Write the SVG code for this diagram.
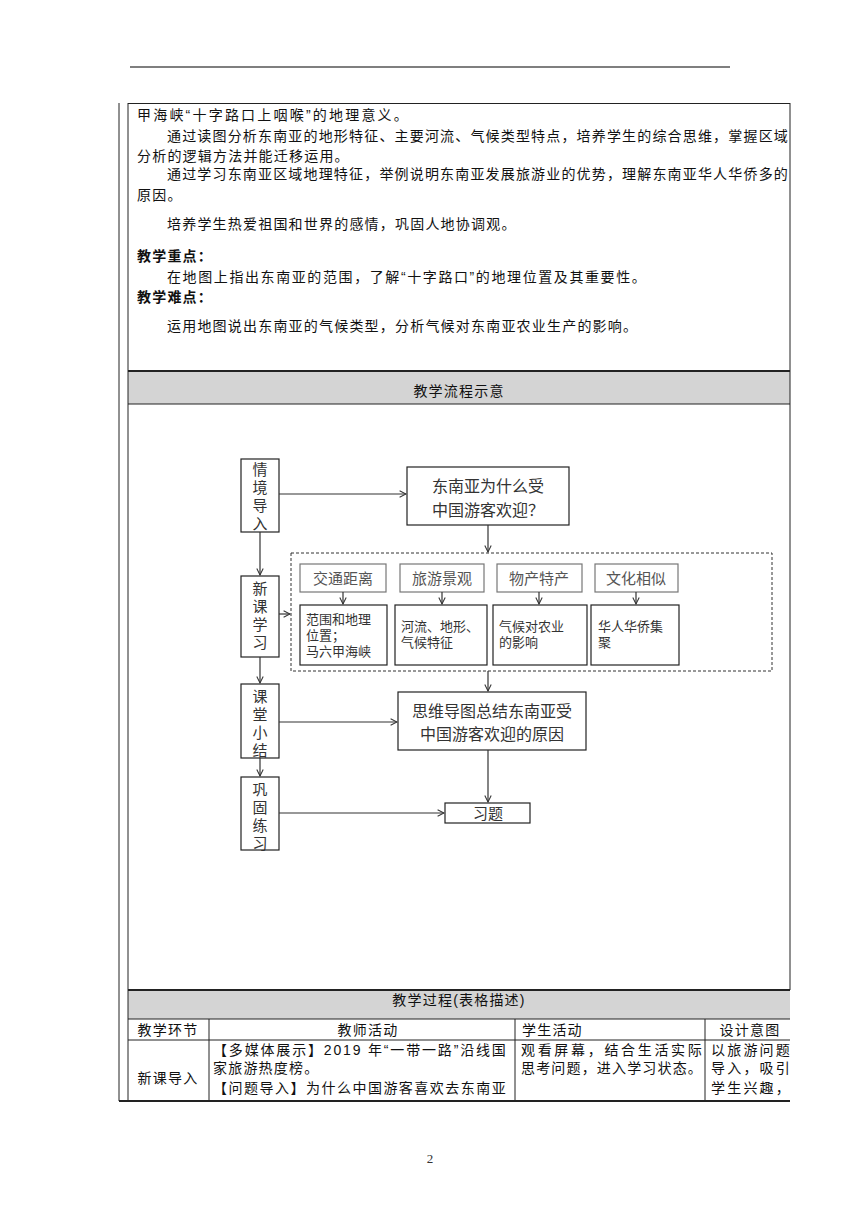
<svg xmlns="http://www.w3.org/2000/svg" width="860" height="1216" viewBox="0 0 860 1216">
<defs>
<style>
.t{font-family:"Liberation Sans","Noto Sans CJK SC","Noto Sans CJK JP",sans-serif;font-size:14px;fill:#111;letter-spacing:1.2px}
.b{font-weight:bold}
.fc{font-family:"Liberation Sans","Noto Sans CJK SC","Noto Sans CJK JP",sans-serif;fill:#333}
.v{font-size:15px;text-anchor:middle}
.q{font-size:16px}
.h{font-size:15px;text-anchor:middle;fill:#555}
.s{font-size:13px}
.box{fill:#fff;stroke:#222;stroke-width:1.2}
.gbox{fill:#fff;stroke:#777;stroke-width:1.2}
.ln{stroke:#333;stroke-width:1.2;fill:none}
.tb{stroke:#222;stroke-width:1;fill:none}
.band{fill:#d4d4d4}
</style>
<marker id="ah" viewBox="0 0 10 10" refX="9" refY="5" markerWidth="8" markerHeight="8" orient="auto" markerUnits="userSpaceOnUse">
<path d="M1,1 L9,5 L1,9" fill="none" stroke="#333" stroke-width="1.3"/>
</marker>
<clipPath id="clipR"><rect x="0" y="0" width="791" height="1216"/></clipPath>
</defs>
<rect width="860" height="1216" fill="#fff"/>

<!-- page header line -->
<line x1="130" y1="67" x2="730" y2="67" stroke="#555" stroke-width="1.5"/>

<!-- table frame -->
<g id="table">
<rect class="band" x="128" y="371" width="662" height="33"/>
<rect class="band" x="128" y="990" width="662" height="29"/>
<line class="tb" x1="119" y1="103" x2="119" y2="1101"/>
<line class="tb" x1="128" y1="103" x2="128" y2="1101"/>
<line class="tb" x1="128" y1="103.5" x2="790" y2="103.5"/>
<line class="tb" x1="790" y1="103" x2="790" y2="990"/>
<line x1="128" y1="371" x2="790" y2="371" stroke="#222" stroke-width="1.8"/>
<line class="tb" x1="128" y1="404" x2="790" y2="404"/>
<line x1="128" y1="990" x2="790" y2="990" stroke="#222" stroke-width="1.8"/>
<line class="tb" x1="128" y1="1019" x2="790" y2="1019"/>
<line class="tb" x1="128" y1="1040" x2="790" y2="1040"/>
<line x1="119" y1="1101" x2="790" y2="1101" stroke="#222" stroke-width="1.8"/>
<line class="tb" x1="209" y1="1019" x2="209" y2="1101"/>
<line class="tb" x1="515" y1="1019" x2="515" y2="1101"/>
<line class="tb" x1="705" y1="1019" x2="705" y2="1101"/>
</g>

<!-- objectives text -->
<g id="text">
<text class="t" x="137" y="120" textLength="272" lengthAdjust="spacing">甲海峡“十字路口上咽喉”的地理意义。</text>
<text class="t" x="167" y="141" textLength="622" lengthAdjust="spacing">通过读图分析东南亚的地形特征、主要河流、气候类型特点，培养学生的综合思维，掌握区域</text>
<text class="t" x="137" y="161">分析的逻辑方法并能迁移运用。</text>
<text class="t" x="167" y="179" textLength="622" lengthAdjust="spacing">通过学习东南亚区域地理特征，举例说明东南亚发展旅游业的优势，理解东南亚华人华侨多的</text>
<text class="t" x="137" y="200">原因。</text>
<text class="t" x="167" y="229">培养学生热爱祖国和世界的感情，巩固人地协调观。</text>
<text class="t b" x="137" y="261">教学重点：</text>
<text class="t" x="167" y="282" textLength="480" lengthAdjust="spacing">在地图上指出东南亚的范围，了解“十字路口”的地理位置及其重要性。</text>
<text class="t b" x="137" y="302">教学难点：</text>
<text class="t" x="167" y="331">运用地图说出东南亚的气候类型，分析气候对东南亚农业生产的影响。</text>
<text class="t" x="459" y="396" text-anchor="middle">教学流程示意</text>
</g>

<!-- flowchart nodes -->
<g id="n-qingjing">
<rect class="box" x="241" y="459" width="38" height="73"/>
<text class="fc v" x="260" y="475"><tspan x="260">情</tspan><tspan x="260" dy="18">境</tspan><tspan x="260" dy="18">导</tspan><tspan x="260" dy="18">入</tspan></text>
</g>
<g id="n-xinke">
<rect class="box" x="241" y="576" width="38" height="81"/>
<text class="fc v" x="260" y="594"><tspan x="260">新</tspan><tspan x="260" dy="18">课</tspan><tspan x="260" dy="18">学</tspan><tspan x="260" dy="18">习</tspan></text>
</g>
<g id="n-xiaojie">
<rect class="box" x="241" y="684" width="38" height="74"/>
<text class="fc v" x="260" y="702"><tspan x="260">课</tspan><tspan x="260" dy="18">堂</tspan><tspan x="260" dy="18">小</tspan><tspan x="260" dy="18">结</tspan></text>
</g>
<g id="n-gonggu">
<rect class="box" x="241" y="777" width="38" height="73"/>
<text class="fc v" x="260" y="795"><tspan x="260">巩</tspan><tspan x="260" dy="18">固</tspan><tspan x="260" dy="18">练</tspan><tspan x="260" dy="18">习</tspan></text>
</g>
<g id="n-question">
<rect class="box" x="407" y="467" width="162" height="58"/>
<text class="fc q" x="432" y="492"><tspan x="432">东南亚为什么受</tspan><tspan x="432" dy="24">中国游客欢迎？</tspan></text>
</g>
<g id="n-group">
<rect x="291" y="553" width="481" height="118" fill="none" stroke="#333" stroke-width="1" stroke-dasharray="3,2"/>
</g>
<g id="n-jiaotong">
<rect class="gbox" x="300" y="564" width="86" height="28"/>
<text class="fc h" x="343" y="584">交通距离</text>
</g>
<g id="n-lvyou">
<rect class="gbox" x="400" y="564" width="84" height="28"/>
<text class="fc h" x="442" y="584">旅游景观</text>
</g>
<g id="n-wuchan">
<rect class="gbox" x="497" y="564" width="85" height="28"/>
<text class="fc h" x="539" y="584">物产特产</text>
</g>
<g id="n-wenhua">
<rect class="gbox" x="595" y="564" width="83" height="28"/>
<text class="fc h" x="636" y="584">文化相似</text>
</g>
<g id="n-fanwei">
<rect class="box" x="300" y="605" width="87" height="60"/>
<text class="fc s" x="306" y="624"><tspan x="306">范围和地理</tspan><tspan x="306" dy="15.5">位置；</tspan><tspan x="306" dy="16.5">马六甲海峡</tspan></text>
</g>
<g id="n-heliu">
<rect class="box" x="395" y="605" width="92" height="60"/>
<text class="fc s" x="401" y="631"><tspan x="401">河流、地形、</tspan><tspan x="401" dy="16">气候特征</tspan></text>
</g>
<g id="n-qihou">
<rect class="box" x="493" y="605" width="94" height="60"/>
<text class="fc s" x="499" y="631"><tspan x="499">气候对农业</tspan><tspan x="499" dy="16">的影响</tspan></text>
</g>
<g id="n-huaren">
<rect class="box" x="591" y="605" width="88" height="60"/>
<text class="fc s" x="598" y="631"><tspan x="598">华人华侨集</tspan><tspan x="598" dy="16">聚</tspan></text>
</g>
<g id="n-summary">
<rect class="box" x="398" y="692" width="188" height="58"/>
<text class="fc q" x="492" y="717" text-anchor="middle"><tspan x="492">思维导图总结东南亚受</tspan><tspan x="492" dy="23">中国游客欢迎的原因</tspan></text>
</g>
<g id="n-xiti">
<rect class="box" x="445" y="803" width="85" height="20"/>
<text class="fc q" x="488" y="819" text-anchor="middle" style="font-size:15px">习题</text>
</g>

<!-- connectors -->
<g id="connectors">
<line class="ln" x1="279" y1="494" x2="406" y2="494" marker-end="url(#ah)"/>
<line class="ln" x1="488" y1="525" x2="488" y2="552" marker-end="url(#ah)"/>
<line class="ln" x1="260" y1="532" x2="260" y2="575" marker-end="url(#ah)"/>
<line class="ln" x1="279" y1="614" x2="290" y2="614" marker-end="url(#ah)"/>
<line class="ln" x1="260" y1="657" x2="260" y2="683" marker-end="url(#ah)"/>
<line class="ln" x1="279" y1="722" x2="397" y2="722" marker-end="url(#ah)"/>
<line class="ln" x1="488" y1="671" x2="488" y2="691" marker-end="url(#ah)"/>
<line class="ln" x1="260" y1="758" x2="260" y2="776" marker-end="url(#ah)"/>
<line class="ln" x1="488" y1="750" x2="488" y2="802" marker-end="url(#ah)"/>
<line class="ln" x1="279" y1="813" x2="444" y2="813" marker-end="url(#ah)"/>
<line class="ln" x1="343" y1="592" x2="343" y2="604" marker-end="url(#ah)"/>
<line class="ln" x1="442" y1="592" x2="442" y2="604" marker-end="url(#ah)"/>
<line class="ln" x1="539" y1="592" x2="539" y2="604" marker-end="url(#ah)"/>
<line class="ln" x1="636" y1="592" x2="636" y2="604" marker-end="url(#ah)"/>
</g>

<!-- process table text -->
<g id="table-text" clip-path="url(#clipR)">
<text class="t" x="459" y="1005" text-anchor="middle">教学过程(表格描述)</text>
<text class="t" x="168" y="1035" text-anchor="middle">教学环节</text>
<text class="t" x="368" y="1035" text-anchor="middle">教师活动</text>
<text class="t" x="522" y="1035">学生活动</text>
<text class="t" x="750" y="1035" text-anchor="middle">设计意图</text>
<text class="t" x="168" y="1083" text-anchor="middle">新课导入</text>
<text class="t" x="213" y="1055"><tspan x="213" textLength="294" lengthAdjust="spacing">【多媒体展示】2019 年“一带一路”沿线国</tspan><tspan x="213" dy="18">家旅游热度榜。</tspan><tspan x="213" dy="20" textLength="294" lengthAdjust="spacing">【问题导入】为什么中国游客喜欢去东南亚</tspan></text>
<text class="t" x="521" y="1055"><tspan x="521" textLength="182" lengthAdjust="spacing">观看屏幕，结合生活实际</tspan><tspan x="521" dy="18" textLength="182" lengthAdjust="spacing">思考问题，进入学习状态。</tspan></text>
<text class="t" x="711" y="1055"><tspan x="711" textLength="80" lengthAdjust="spacing">以旅游问题</tspan><tspan x="711" dy="18" textLength="80" lengthAdjust="spacing">导入，吸引</tspan><tspan x="711" dy="20" textLength="80" lengthAdjust="spacing">学生兴趣，</tspan></text>
</g>

<text x="430" y="1163" font-family="Liberation Serif, serif" font-size="13" fill="#333" text-anchor="middle">2</text>
</svg>
